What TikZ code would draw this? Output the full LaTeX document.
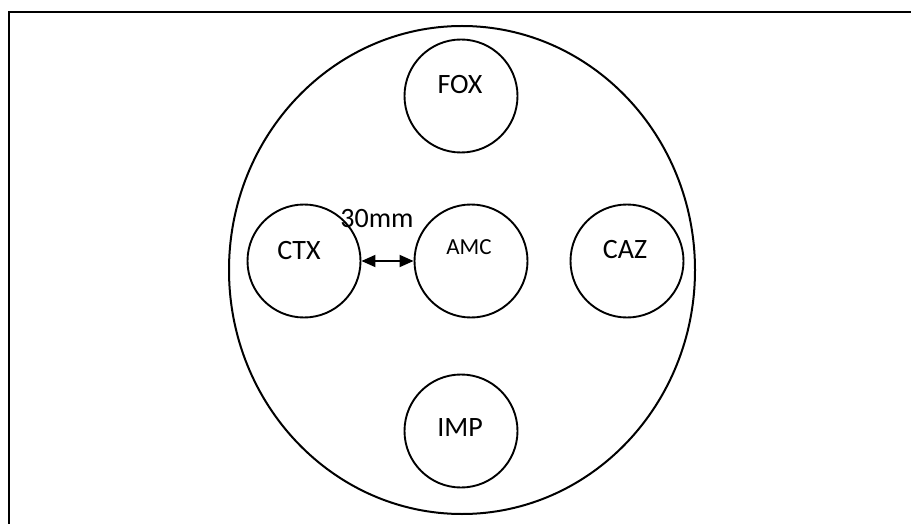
\documentclass[tikz,border=0pt]{standalone}
\usepackage{fontspec}
\setmainfont{Carlito}
\usetikzlibrary{shapes.geometric,arrows.meta}
\begin{document}
\begin{tikzpicture}[x=1pt,y=-1pt,
  disc/.style={draw,circle,line width=1.9pt,minimum size=113pt,inner sep=0pt},
  lbl/.style={font=\fontsize{28}{33}\selectfont,inner sep=0pt},
  smalllbl/.style={font=\fontsize{23}{28}\selectfont,inner sep=0pt}]
\useasboundingbox (0,0) rectangle (911,524);
\draw[line width=2.4pt] (911,12) -- (9,12) -- (9,530);
\node[draw,ellipse,line width=2pt,minimum width=466pt,minimum height=488pt,inner sep=0pt] (plate) at (462,270) {};
\node[disc] (fox) at (461,96) {};
\node[disc] (ctx) at (304,261) {};
\node[disc] (amc) at (471,261) {};
\node[disc] (caz) at (627,261) {};
\node[disc] (imp) at (461,431) {};
\node[lbl] (tfox) at (460,85) {FOX};
\node[lbl] (tctx) at (299,251) {CTX};
\node[smalllbl] (tamc) at (469,247) {AMC};
\node[lbl] (tcaz) at (625,250) {CAZ};
\node[lbl] (timp) at (460,428) {IMP};
\draw[line width=1.8pt,{Triangle[length=14pt,width=12pt]}-{Triangle[length=14pt,width=12pt]}] (ctx.east) -- (amc.west);
\node[lbl] (dist) at (377,219) {30mm};
\end{tikzpicture}
\end{document}
